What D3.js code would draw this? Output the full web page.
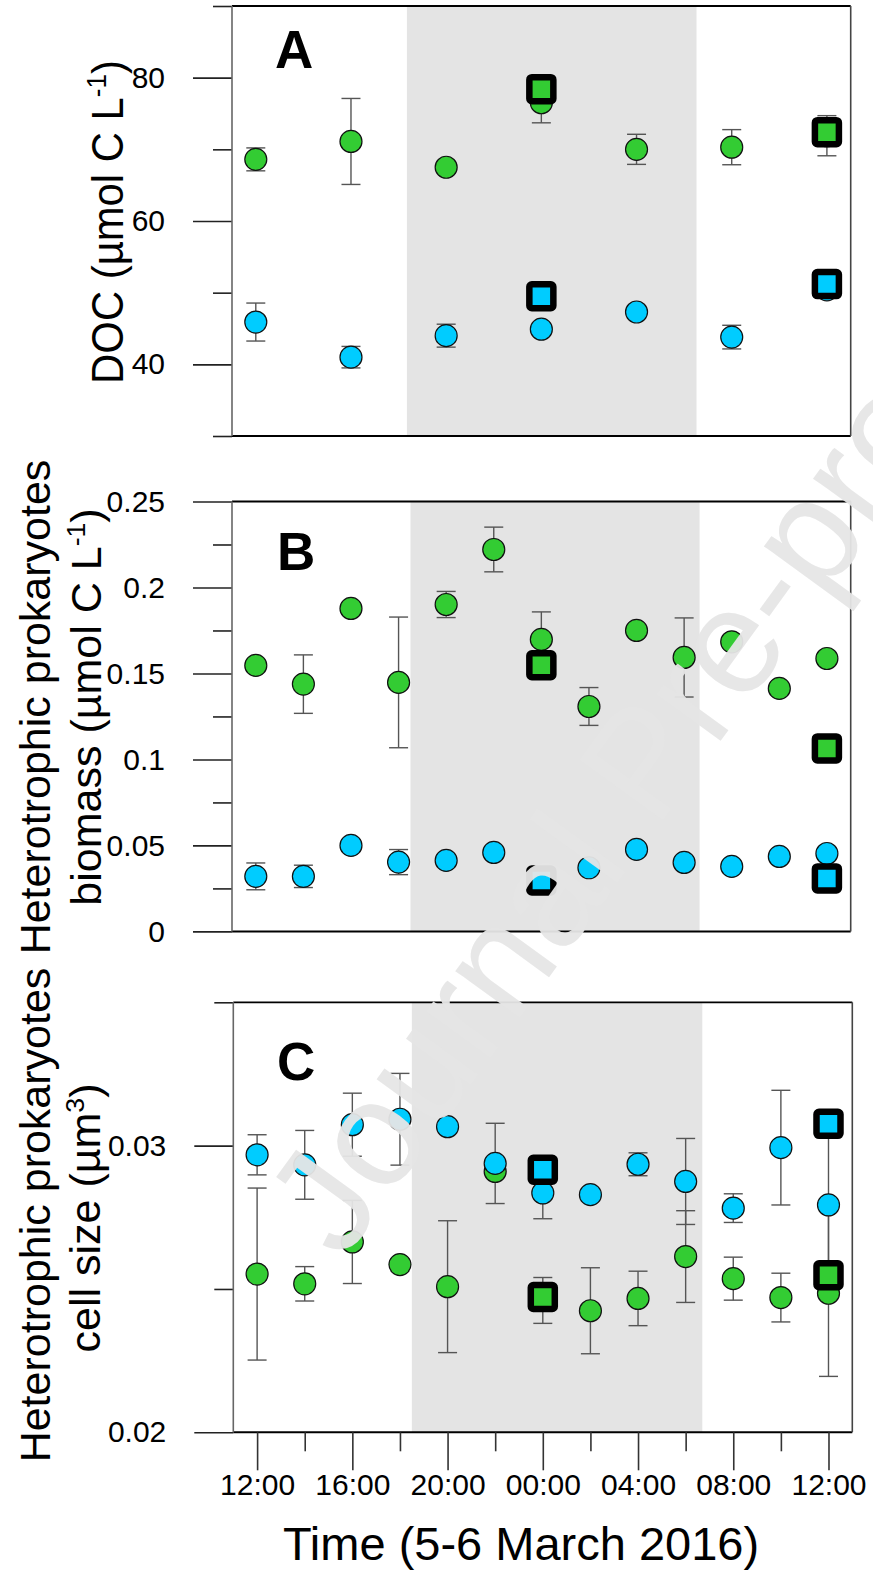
<!DOCTYPE html>
<html><head><meta charset="utf-8">
<script src="https://cdn.jsdelivr.net/npm/d3@7"></script>
<style>
body{margin:0;background:#fff}
svg{display:block}
text{font-family:"Liberation Sans",Arial,Helvetica,sans-serif}
</style>
</head><body><div id="chart"></div>
<script>
// ---------------- DATA ----------------
// Panel A: DOC (µmol C L-1), every 4 h
const hoursA = [12, 16, 20, 24, 28, 32, 36];
const docGreen    = [68.6, 71.1, 67.5, 76.5, 70.0, 70.3, 71.9];
const docGreenErr = [1.6, 6.0, 0, 2.8, 2.1, 2.45, 2.8];
const docBlue     = [45.9, 41.0, 44.0, 44.9, 47.3, 43.8, 50.4];
const docBlueErr  = [2.65, 1.5, 1.6, 0, 0, 1.65, 0];
const docSqHours  = [24, 36];
const docSqGreen  = [78.4, 72.4];
const docSqBlue   = [49.5, 51.2];

// Panel B: biomass (µmol C L-1), every 2 h
const hoursBC = [12, 14, 16, 18, 20, 22, 24, 26, 28, 30, 32, 34, 36];
const bioGreen    = [0.1547, 0.1438, 0.1878, 0.1448, 0.1901, 0.2221, 0.1698, 0.1308, 0.1750, 0.1593, 0.1684, 0.1413, 0.1587];
const bioGreenErr = [0, 0.017, 0, 0.038, 0.0076, 0.013, 0.016, 0.011, 0, 0.023, 0.003, 0, 0];
const bioBlue     = [0.0320, 0.0320, 0.0500, 0.0403, 0.0413, 0.0459, 0.0300, 0.0370, 0.0477, 0.0401, 0.0378, 0.0436, 0.0453];
const bioBlueErr  = [0.0078, 0.0065, 0, 0.0073, 0, 0, 0, 0, 0, 0, 0, 0, 0];
const bioSqHours  = [24, 36];
const bioSqGreen  = [0.1548, 0.1064];
const bioSqBlue   = [0.0296, 0.0308];

// Panel C: cell size (µm3), every 2 h
const sizeBlue     = [0.02968, 0.02933, 0.03073, 0.03092, 0.03066, 0.02938, 0.02835, 0.02829, 0.02935, 0.02875, 0.02782, 0.02993, 0.02793];
const sizeBlueErr  = [0.0007, 0.0012, 0.0011, 0.0016, 0, 0.0014, 0.0009, 0, 0.0004, 0.0015, 0.0005, 0.002, 0.0028];
const sizeGreen    = [0.02552, 0.02518, 0.02664, 0.02585, 0.02508, 0.0291, 0.0246, 0.02424, 0.02467, 0.02613, 0.02536, 0.0247, 0.02485];
const sizeGreenErr = [0.003, 0.0006, 0.00145, 0, 0.0023, 0, 0.0008, 0.0015, 0.00095, 0.0016, 0.00075, 0.00085, 0.0029];
const sizeSqHours  = [24, 36];
const sizeSqGreen  = [0.02472, 0.02548];
const sizeSqBlue   = [0.02916, 0.03076];

// Night (dark period) shading, hours since 00:00 on 5 March, per panel
const nightStart = [18.35, 18.5, 18.5];
const nightEnd   = [30.52, 30.65, 30.7];

// Axis ticks
const xMajor = [12, 16, 20, 24, 28, 32, 36];
const xMinor = [14, 18, 22, 26, 30, 34];
const xTickLabels = ["12:00", "16:00", "20:00", "00:00", "04:00", "08:00", "12:00"];
const yMajorA = [40, 60, 80],  yMinorA = [30, 50, 70, 90];
const yMajorB = [0, 0.05, 0.1, 0.15, 0.2, 0.25], yMinorB = [0.025, 0.075, 0.125, 0.175, 0.225];
const yMajorC = [0.02, 0.03],  yMinorC = [0.025, 0.035];

// ---------------- DRAW ----------------
const W = 873, H = 1579;
const GREEN = "#33cc33", BLUE = "#00ccff", SHADE = "#e4e4e4";
const svg = d3.select("#chart").append("svg").attr("width", W).attr("height", H);
svg.append("rect").attr("width", W).attr("height", H).attr("fill", "#fff");

const panels = [
  {letter: "A", top: 6, bottom: 436, left: 232, right: 850.7, domain: [30, 90],
   major: yMajorA, minor: yMinorA, fmt: d3.format("d"), letterX: 275, letterY: 68, idx: 0,
   hours: hoursA, green: docGreen, greenErr: docGreenErr, blue: docBlue, blueErr: docBlueErr,
   sqH: docSqHours, sqG: docSqGreen, sqB: docSqBlue},
  {letter: "B", top: 501.5, bottom: 931.4, left: 232, right: 850.7, domain: [0, 0.25],
   major: yMajorB, minor: yMinorB, fmt: d => String(+d.toFixed(3)), letterX: 277, letterY: 570, idx: 1,
   hours: hoursBC, green: bioGreen, greenErr: bioGreenErr, blue: bioBlue, blueErr: bioBlueErr,
   sqH: bioSqHours, sqG: bioSqGreen, sqB: bioSqBlue},
  {letter: "C", top: 1002.3, bottom: 1432.3, left: 233.3, right: 852.3, domain: [0.02, 0.035],
   major: yMajorC, minor: yMinorC, fmt: d => String(+d.toFixed(3)), letterX: 277, letterY: 1080, idx: 2,
   hours: hoursBC, green: sizeGreen, greenErr: sizeGreenErr, blue: sizeBlue, blueErr: sizeBlueErr,
   sqH: sizeSqHours, sqG: sizeSqGreen, sqB: sizeSqBlue}
];

let xC = null;
panels.forEach(p => {
  const x = d3.scaleLinear().domain([11, 37]).range([p.left, p.right]);
  const y = d3.scaleLinear().domain(p.domain).range([p.bottom, p.top]);
  if (p.letter === "C") xC = x;
  const g = svg.append("g");

  // night shading
  g.append("rect")
    .attr("x", x(nightStart[p.idx])).attr("y", p.top)
    .attr("width", x(nightEnd[p.idx]) - x(nightStart[p.idx]))
    .attr("height", p.bottom - p.top).attr("fill", SHADE);

  // y axis ticks (major + minor)
  const axMaj = g.append("g").attr("transform", `translate(${p.left},0)`)
    .call(d3.axisLeft(y).tickValues(p.major).tickSize(39).tickPadding(28).tickFormat(p.fmt));
  const axMin = g.append("g").attr("transform", `translate(${p.left},0)`)
    .call(d3.axisLeft(y).tickValues(p.minor).tickSize(19).tickFormat(""));
  [axMaj, axMin].forEach(a => {
    a.select(".domain").remove();
    a.selectAll(".tick line").attr("stroke", "#222").attr("stroke-width", 1.6);
  });
  axMaj.selectAll(".tick text").attr("font-size", 30).attr("fill", "#000")
    .attr("font-family", '"Liberation Sans",Arial,sans-serif');

  // frame
  g.append("line").attr("x1", p.left).attr("x2", p.right).attr("y1", p.top).attr("y2", p.top)
    .attr("stroke", "#000").attr("stroke-width", 1.8);
  g.append("line").attr("x1", p.left).attr("x2", p.right).attr("y1", p.bottom).attr("y2", p.bottom)
    .attr("stroke", "#000").attr("stroke-width", 2);
  g.append("line").attr("x1", p.left).attr("x2", p.left).attr("y1", p.top).attr("y2", p.bottom)
    .attr("stroke", "#666").attr("stroke-width", 1.6);
  g.append("line").attr("x1", p.right).attr("x2", p.right).attr("y1", p.top).attr("y2", p.bottom)
    .attr("stroke", "#444").attr("stroke-width", 1.6);

  // error bars
  const errData = [];
  p.hours.forEach((h, i) => {
    if (p.greenErr[i] > 0) errData.push({h, v: p.green[i], e: p.greenErr[i]});
    if (p.blueErr[i] > 0) errData.push({h, v: p.blue[i], e: p.blueErr[i]});
  });
  const eb = g.append("g").attr("stroke", "#555").attr("stroke-width", 1.4);
  eb.selectAll("line.v").data(errData).join("line")
    .attr("x1", d => x(d.h)).attr("x2", d => x(d.h))
    .attr("y1", d => y(d.v - d.e)).attr("y2", d => y(d.v + d.e));
  eb.selectAll("line.t").data(errData).join("line").attr("class", "t")
    .attr("x1", d => x(d.h) - 9.5).attr("x2", d => x(d.h) + 9.5)
    .attr("y1", d => y(d.v + d.e)).attr("y2", d => y(d.v + d.e));
  eb.selectAll("line.b").data(errData).join("line").attr("class", "b")
    .attr("x1", d => x(d.h) - 9.5).attr("x2", d => x(d.h) + 9.5)
    .attr("y1", d => y(d.v - d.e)).attr("y2", d => y(d.v - d.e));

  // circles
  g.append("g").selectAll("circle").data(p.hours.map((h, i) => ({h, v: p.green[i]}))).join("circle")
    .attr("cx", d => x(d.h)).attr("cy", d => y(d.v)).attr("r", 11)
    .attr("fill", GREEN).attr("stroke", "#111").attr("stroke-width", 1.2);
  g.append("g").selectAll("circle").data(p.hours.map((h, i) => ({h, v: p.blue[i]}))).join("circle")
    .attr("cx", d => x(d.h)).attr("cy", d => y(d.v)).attr("r", 11)
    .attr("fill", BLUE).attr("stroke", "#111").attr("stroke-width", 1.2);

  // squares
  const sq = [];
  p.sqH.forEach((h, i) => { sq.push({h, v: p.sqG[i], c: GREEN}); sq.push({h, v: p.sqB[i], c: BLUE}); });
  g.append("g").selectAll("rect").data(sq).join("rect")
    .attr("x", d => x(d.h) - 12).attr("y", d => y(d.v) - 12)
    .attr("width", 24).attr("height", 24).attr("rx", 2.5)
    .attr("fill", d => d.c).attr("stroke", "#000").attr("stroke-width", 6.5);

  // panel letter
  g.append("text").attr("x", p.letterX).attr("y", p.letterY)
    .attr("font-size", 53).attr("font-weight", "bold").text(p.letter);
});

// x axis (bottom panel only)
const pc = panels[2];
const xMaj = svg.append("g").attr("transform", `translate(0,${pc.bottom})`)
  .call(d3.axisBottom(xC).tickValues(xMajor).tickSize(38).tickPadding(3)
        .tickFormat((d, i) => xTickLabels[i]));
const xMin = svg.append("g").attr("transform", `translate(0,${pc.bottom})`)
  .call(d3.axisBottom(xC).tickValues(xMinor).tickSize(19).tickFormat(""));
[xMaj, xMin].forEach(a => {
  a.select(".domain").remove();
  a.selectAll(".tick line").attr("stroke", "#333").attr("stroke-width", 1.6);
});
xMaj.selectAll(".tick text").attr("font-size", 30).attr("fill", "#000")
  .attr("font-family", '"Liberation Sans",Arial,sans-serif');

// axis titles
svg.append("text").attr("x", 521).attr("y", 1560).attr("text-anchor", "middle")
  .attr("font-size", 47).text("Time (5-6 March 2016)");

function supTitle(tx, ty, sx, size, parts) {
  const t = svg.append("text").attr("text-anchor", "middle").attr("font-size", size)
    .attr("transform", `translate(${tx},${ty}) rotate(-90) scale(${sx},1)`);
  parts.forEach(pt => {
    const s = t.append("tspan").text(pt.t);
    if (pt.sup) s.attr("font-size", size * 0.62).attr("dy", -size * 0.38);
    if (pt.down) s.attr("dy", size * 0.38);
  });
  return t;
}
supTitle(123, 222, 0.93, 45, [{t: "DOC (µmol C L"}, {t: "-1", sup: true}, {t: ")", down: true}]);
supTitle(50, 707, 1, 43, [{t: "Heterotrophic prokaryotes"}]);
supTitle(101, 707, 1, 43, [{t: "biomass (µmol C L"}, {t: "-1", sup: true}, {t: ")", down: true}]);
supTitle(50, 1215, 1, 43, [{t: "Heterotrophic prokaryotes"}]);
supTitle(100, 1218, 1, 43, [{t: "cell size (µm"}, {t: "3", sup: true}, {t: ")", down: true}]);

// watermark
svg.append("text").attr("transform", "translate(342,1262) rotate(-54)")
  .attr("font-size", 150).attr("fill", "#e6e6e6").attr("opacity", 0.95)
  .text("Journal Pre-proof");
</script>
</body></html>
